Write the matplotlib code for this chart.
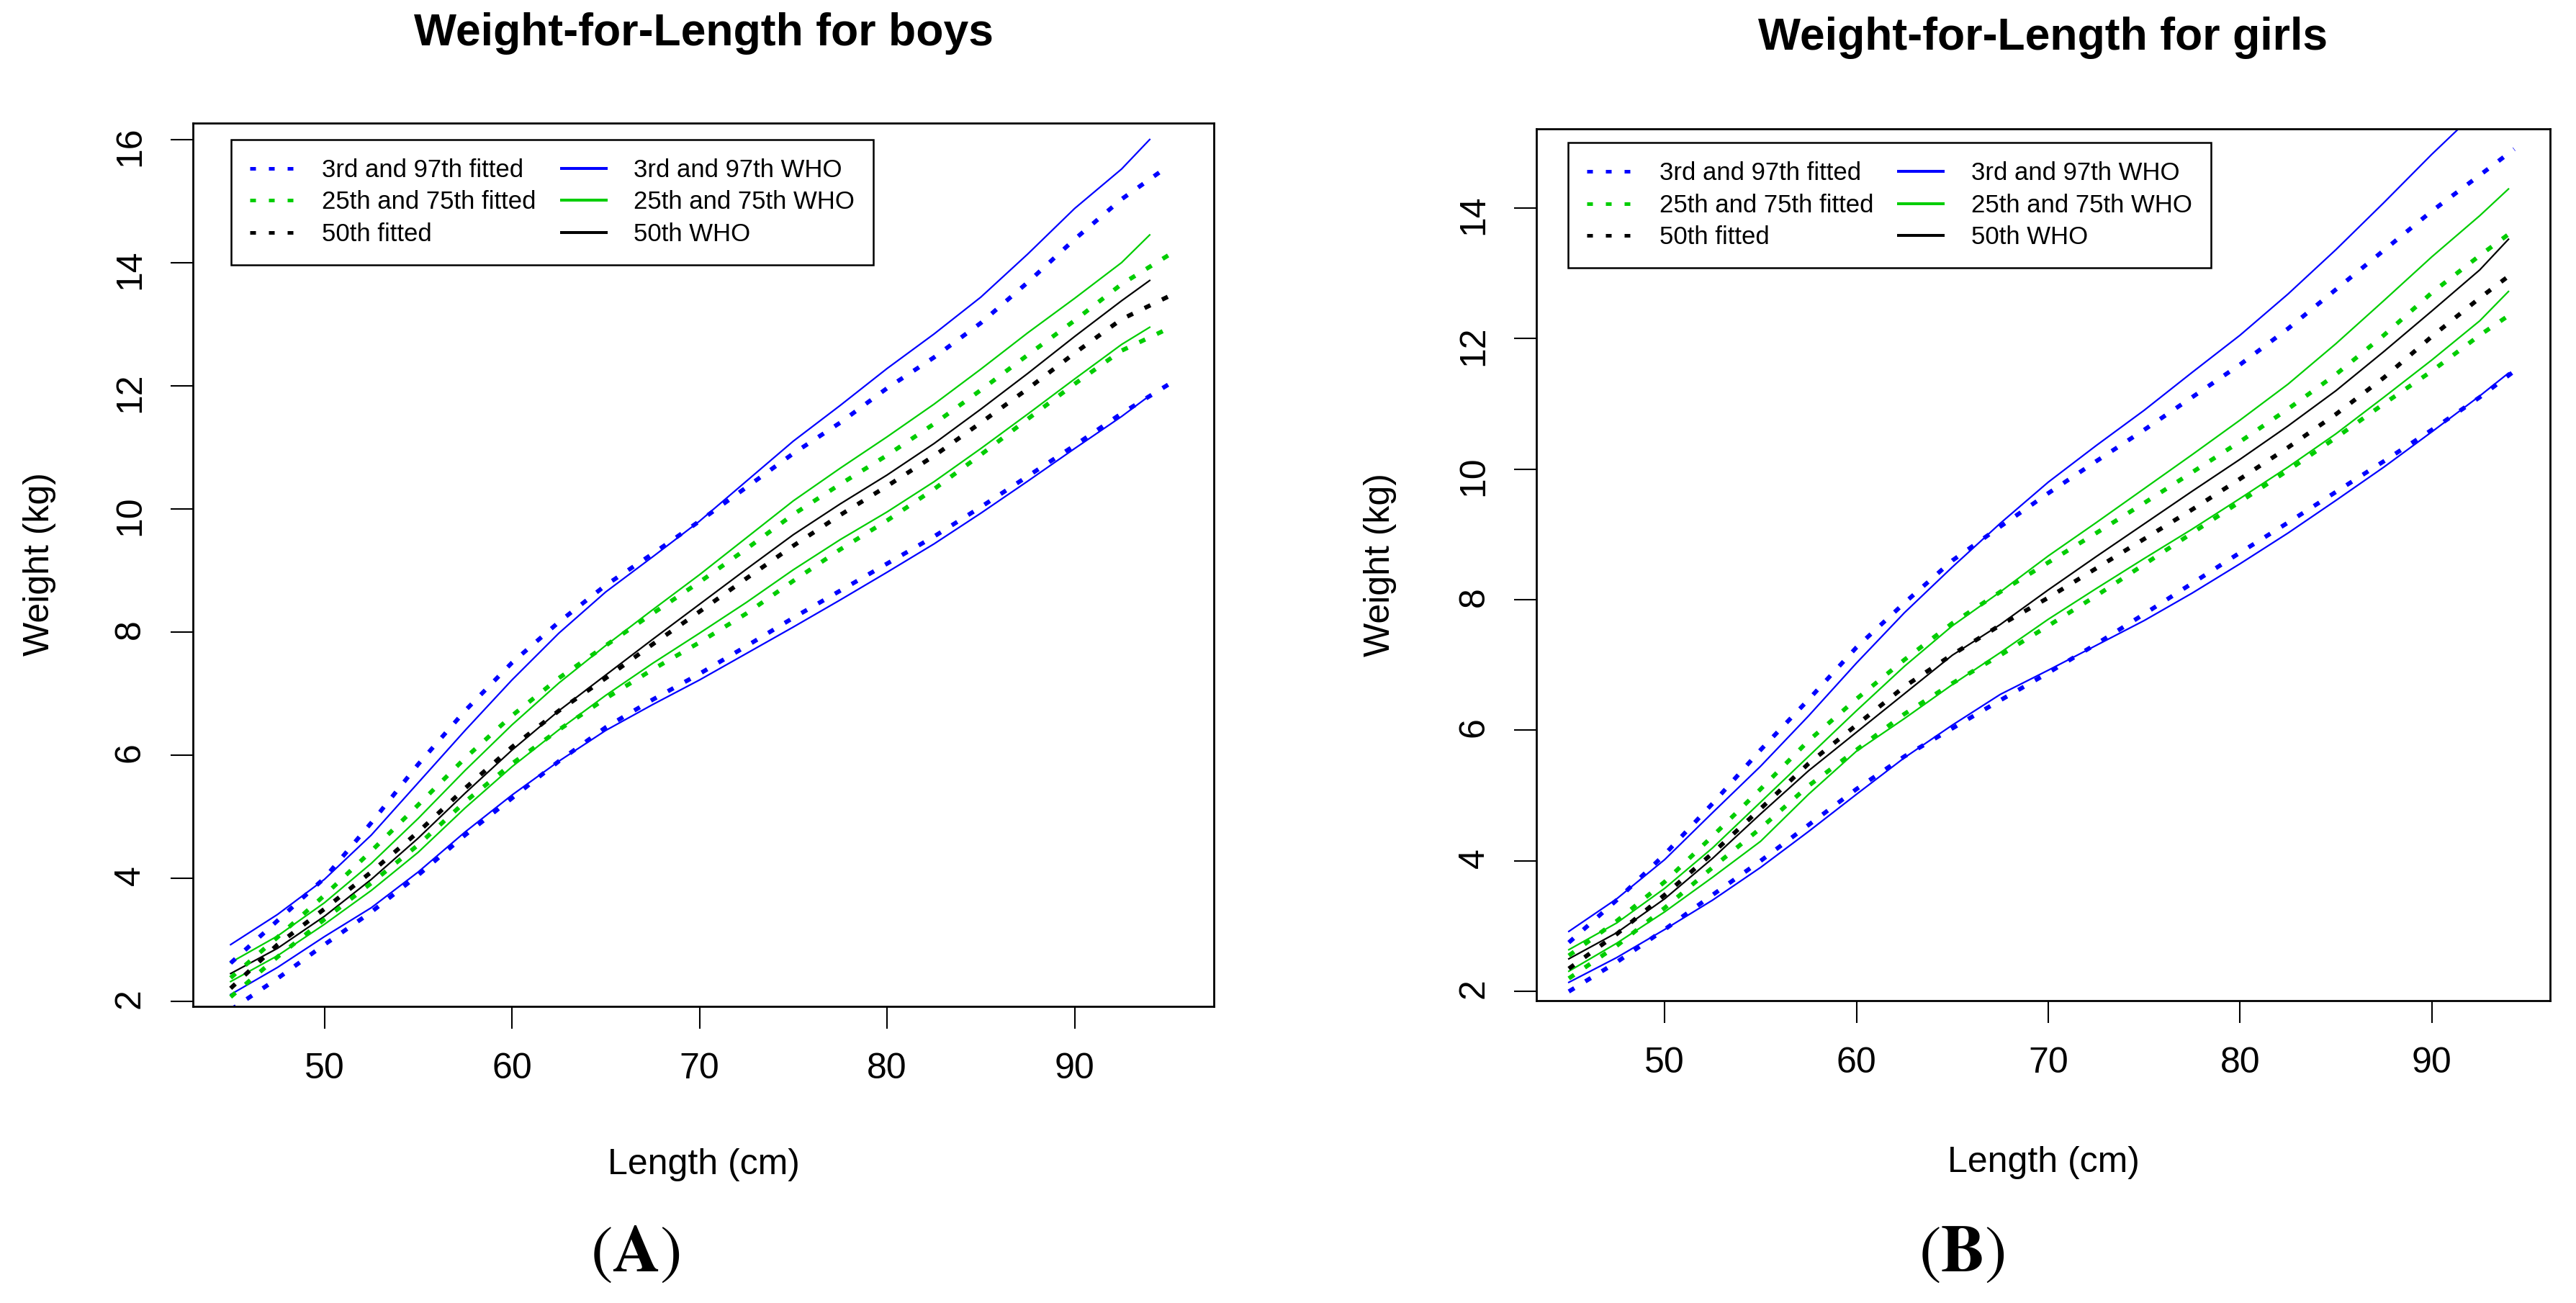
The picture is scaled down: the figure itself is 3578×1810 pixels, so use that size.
import numpy as np
import matplotlib
matplotlib.use("Agg")
import matplotlib.pyplot as plt
from matplotlib.lines import Line2D

plt.rcParams['font.family'] = ['Liberation Sans', 'DejaVu Sans']
plt.rcParams['mathtext.fontset'] = 'stix'

BLUE = '#0000ff'
GREEN = '#00cd00'

# lengths (cm)
len_who = [45, 47.5, 50, 52.5, 55, 57.5, 60, 62.5, 65, 67.5, 70, 72.5, 75, 77.5, 80,
           82.5, 85, 87.5, 90, 92.5, 94]
len_fit_boys = [45, 47.5, 50, 52.5, 55, 57.5, 60, 62.5, 65, 67.5, 70, 72.5, 75, 77.5, 80,
                82.5, 85, 87.5, 90, 92.5, 95]
len_fit_girls = [45, 47.5, 50, 52.5, 55, 57.5, 60, 62.5, 65, 67.5, 70, 72.5, 75, 77.5, 80,
                 82.5, 85, 87.5, 90, 92.5, 94.3]

# boys, WHO percentiles (kg)
boys_who_p97 = [2.92, 3.41, 3.98, 4.70, 5.55, 6.40, 7.22, 7.98, 8.65, 9.22, 9.80, 10.45, 11.10,
                11.68, 12.28, 12.84, 13.44, 14.14, 14.88, 15.52, 16.00]
boys_who_p75 = [2.63, 3.06, 3.60, 4.24, 4.97, 5.75, 6.49, 7.17, 7.78, 8.36, 8.93, 9.53, 10.13,
                10.66, 11.17, 11.70, 12.27, 12.86, 13.42, 14.00, 14.45]
boys_who_p50 = [2.45, 2.86, 3.38, 3.98, 4.65, 5.38, 6.08, 6.72, 7.30, 7.88, 8.45, 9.02, 9.58,
                10.08, 10.55, 11.06, 11.62, 12.20, 12.80, 13.38, 13.71]
boys_who_p25 = [2.32, 2.74, 3.25, 3.80, 4.42, 5.14, 5.81, 6.41, 6.97, 7.49, 7.98, 8.48, 9.01,
                9.50, 9.95, 10.44, 10.98, 11.54, 12.11, 12.67, 12.95]
boys_who_p3 = [2.11, 2.55, 3.05, 3.52, 4.10, 4.75, 5.35, 5.90, 6.40, 6.82, 7.22, 7.65, 8.08,
               8.52, 8.97, 9.43, 9.93, 10.45, 10.98, 11.50, 11.84]

# boys, fitted percentiles (kg)
boys_fit_p97 = [2.62, 3.31, 4.00, 4.90, 5.85, 6.72, 7.50, 8.16, 8.76, 9.27, 9.80, 10.35, 10.90,
                11.40, 11.96, 12.46, 13.02, 13.68, 14.38, 15.03, 15.57]
boys_fit_p75 = [2.38, 3.04, 3.72, 4.44, 5.19, 5.95, 6.64, 7.25, 7.78, 8.30, 8.81, 9.35, 9.91,
                10.40, 10.87, 11.38, 11.93, 12.50, 13.06, 13.65, 14.12]
boys_fit_p50 = [2.21, 2.92, 3.50, 4.10, 4.75, 5.46, 6.13, 6.72, 7.25, 7.80, 8.33, 8.87, 9.40,
                9.90, 10.37, 10.86, 11.40, 11.95, 12.53, 13.08, 13.45]
boys_fit_p25 = [2.07, 2.72, 3.33, 3.92, 4.54, 5.24, 5.86, 6.41, 6.92, 7.39, 7.83, 8.30, 8.83,
                9.34, 9.81, 10.32, 10.88, 11.46, 12.03, 12.57, 12.93]
boys_fit_p3 = [1.86, 2.37, 2.92, 3.45, 4.05, 4.70, 5.30, 5.90, 6.45, 6.90, 7.32, 7.77, 8.23,
               8.67, 9.11, 9.55, 10.03, 10.53, 11.03, 11.55, 12.02]

# girls, WHO percentiles (kg)
girls_who_p97 = [2.92, 3.42, 4.02, 4.74, 5.45, 6.22, 7.03, 7.80, 8.50, 9.17, 9.80, 10.36, 10.90,
                 11.48, 12.05, 12.68, 13.36, 14.08, 14.82, 15.52, 15.95]
girls_who_p75 = [2.64, 3.05, 3.58, 4.20, 4.90, 5.60, 6.30, 6.98, 7.60, 8.12, 8.67, 9.18, 9.70,
                 10.22, 10.75, 11.30, 11.92, 12.58, 13.25, 13.88, 14.29]
girls_who_p50 = [2.50, 2.90, 3.42, 4.04, 4.72, 5.38, 5.97, 6.56, 7.15, 7.62, 8.15, 8.66, 9.16,
                 9.66, 10.15, 10.66, 11.20, 11.80, 12.42, 13.05, 13.52]
girls_who_p25 = [2.31, 2.74, 3.22, 3.75, 4.30, 5.02, 5.68, 6.18, 6.70, 7.19, 7.70, 8.17, 8.63,
                 9.08, 9.55, 10.03, 10.54, 11.10, 11.67, 12.27, 12.72]
girls_who_p3 = [2.14, 2.52, 2.95, 3.40, 3.90, 4.45, 5.02, 5.58, 6.08, 6.55, 6.92, 7.30, 7.68,
                8.10, 8.55, 9.02, 9.52, 10.03, 10.57, 11.12, 11.47]

# girls, fitted percentiles (kg)
girls_fit_p97 = [2.75, 3.40, 4.10, 4.88, 5.70, 6.47, 7.27, 7.95, 8.60, 9.12, 9.63, 10.12, 10.60,
                 11.10, 11.60, 12.15, 12.75, 13.35, 13.95, 14.50, 14.90]
girls_fit_p75 = [2.55, 3.08, 3.68, 4.38, 5.10, 5.84, 6.48, 7.08, 7.64, 8.12, 8.57, 9.02, 9.48,
                 9.95, 10.42, 10.92, 11.45, 12.05, 12.70, 13.27, 13.66]
girls_fit_p50 = [2.35, 2.88, 3.48, 4.12, 4.80, 5.49, 6.08, 6.67, 7.16, 7.61, 8.03, 8.48, 8.93,
                 9.38, 9.85, 10.33, 10.84, 11.40, 12.03, 12.62, 13.02]
girls_fit_p25 = [2.20, 2.70, 3.28, 3.90, 4.50, 5.15, 5.70, 6.25, 6.72, 7.15, 7.60, 8.06, 8.54,
                 9.02, 9.50, 9.98, 10.48, 11.00, 11.50, 12.05, 12.41]
girls_fit_p3 = [2.00, 2.45, 2.95, 3.48, 4.00, 4.55, 5.10, 5.60, 6.03, 6.46, 6.88, 7.32, 7.78,
                8.25, 8.72, 9.18, 9.65, 10.12, 10.60, 11.10, 11.50]

legend_labels = ["3rd and 97th fitted", "25th and 75th fitted", "50th fitted",
                 "3rd and 97th WHO", "25th and 75th WHO", "50th WHO"]

W, H = 3578, 1810
fig = plt.figure(figsize=(W / 100, H / 100), dpi=100)


def px_axes(l, t, r, b):
    return fig.add_axes([l / W, 1 - b / H, (r - l) / W, (b - t) / H])


def panel(ax, who, fit, len_fit, xlim, ylim, yticks):
    for y, c in zip(who, [BLUE, GREEN, 'black', GREEN, BLUE]):
        ax.plot(len_who, y, color=c, lw=1.6)
    for y, c in zip(fit, [BLUE, GREEN, 'black', GREEN, BLUE]):
        ax.plot(len_fit, y, color=c, lw=4.3, linestyle=(0, (1.5, 3.0)),
                dash_capstyle='butt')
    ax.set_xlim(*xlim)
    ax.set_ylim(*ylim)
    ax.set_xticks([50, 60, 70, 80, 90])
    ax.set_yticks(yticks)
    ax.tick_params(direction='out', length=22, width=1.5, pad=24, labelsize=36)
    ax.tick_params(axis='y', labelrotation=90)
    for s in ax.spines.values():
        s.set_linewidth(2)


def legend(ax, x, y):
    hs = [Line2D([], [], color=c, lw=3.6, linestyle=(0, (1.6, 3.6)), dash_capstyle='butt')
          for c in [BLUE, GREEN, 'black']]
    hs += [Line2D([], [], color=c, lw=2.9) for c in [BLUE, GREEN, 'black']]
    lg = ax.legend(hs, legend_labels, ncol=2, loc='upper left',
                   bbox_to_anchor=(x / W, 1 - y / H), bbox_transform=fig.transFigure,
                   fontsize=25, fancybox=False, edgecolor='black', framealpha=1,
                   borderpad=0.75, labelspacing=0.33, handlelength=1.8,
                   handletextpad=1.1, columnspacing=1.0, borderaxespad=0)
    lg.get_frame().set_linewidth(1.8)


# boys
ax1 = px_axes(267.7, 170.7, 1686, 1397.7)
panel(ax1,
      [boys_who_p97, boys_who_p75, boys_who_p50, boys_who_p25, boys_who_p3],
      [boys_fit_p97, boys_fit_p75, boys_fit_p50, boys_fit_p25, boys_fit_p3],
      len_fit_boys, (42.98, 97.42), (1.92, 16.27), [2, 4, 6, 8, 10, 12, 14, 16])
legend(ax1, 320.6, 193.8)

# girls
ax2 = px_axes(2134.3, 179, 3542.3, 1390)
panel(ax2,
      [girls_who_p97, girls_who_p75, girls_who_p50, girls_who_p25, girls_who_p3],
      [girls_fit_p97, girls_fit_p75, girls_fit_p50, girls_fit_p25, girls_fit_p3],
      len_fit_girls, (43.32, 96.18), (1.86, 15.21), [2, 4, 6, 8, 10, 12, 14])
legend(ax2, 2178, 198.4)

# titles and axis labels
fig.text(977 / W, 1 - 46 / H, "Weight-for-Length for boys", ha='center', va='center',
         fontsize=45, fontweight='bold')
fig.text(2838 / W, 1 - 52 / H, "Weight-for-Length for girls", ha='center', va='center',
         fontsize=45, fontweight='bold')
fig.text(977 / W, 1 - 1618 / H, "Length (cm)", ha='center', va='center', fontsize=36)
fig.text(2838 / W, 1 - 1615 / H, "Length (cm)", ha='center', va='center', fontsize=36)
fig.text(55 / W, 1 - 784 / H, "Weight (kg)", ha='center', va='center', fontsize=36,
         rotation=90)
fig.text(1917 / W, 1 - 784.5 / H, "Weight (kg)", ha='center', va='center', fontsize=36,
         rotation=90)

fig.text(882 / W, 1 - 1742 / H, r"$(\mathbf{A})$", ha='center', va='center', fontsize=66)
fig.text(2724.6 / W, 1 - 1742 / H, r"$(\mathbf{B})$", ha='center', va='center', fontsize=66)

fig.savefig("out.png", dpi=100)
